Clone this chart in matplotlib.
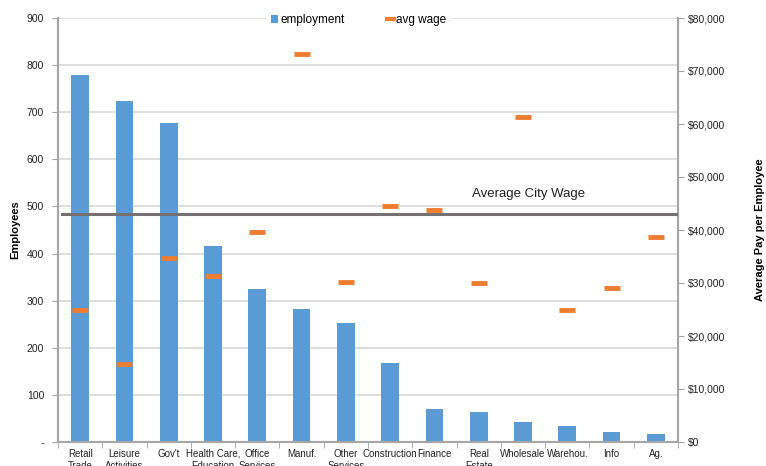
import numpy as np
import matplotlib
matplotlib.use("Agg")
import matplotlib.pyplot as plt
from matplotlib.patches import Patch
from matplotlib.lines import Line2D
from matplotlib.ticker import FuncFormatter

plt.rcParams['font.family'] = ['Liberation Sans', 'DejaVu Sans']

# data
sectors = ["Retail\nTrade", "Leisure\nActivities", "Gov't", "Health Care,\nEducation",
           "Office\nServices", "Manuf.", "Other\nServices", "Construction", "Finance",
           "Real\nEstate", "Wholesale", "Warehou.", "Info", "Ag."]
employment = [780, 724, 678, 417, 325, 283, 252, 168, 70, 64, 42, 35, 22, 17]
avg_wage = [24900, 14700, 34800, 31400, 39600, 73300, 30200, 44600, 43700,
            29950, 61400, 24900, 29100, 38700]
city_avg_wage = 42950

blue = '#5B9BD5'
orange = '#ED7D31'
axis_gray = '#A6A6A6'
txt = '#222222'

fig = plt.figure(figsize=(7.66, 4.66), dpi=100)
ax = fig.add_axes([58/766, 24/466, 620/766, 424/466])
ax2 = ax.twinx()

xs = np.arange(len(sectors))

# bars for employment
ax.bar(xs, employment, width=0.4, color=blue, zorder=2)
ax.set_xlim(-0.5, len(sectors) - 0.5)
ax.set_ylim(0, 900)
ax.set_yticks(np.arange(0, 901, 100))
ax.yaxis.set_major_formatter(FuncFormatter(lambda v, p: '-' if v == 0 else '%d' % v))
ax.grid(axis='y', color='#D9D9D9', lw=1.2, zorder=0)
ax.set_axisbelow(True)

# category labels centred, tick marks between categories
ax.set_xticks(xs)
ax.set_xticklabels(sectors, fontsize=7, color=txt, linespacing=1.3)
ax.set_xticks(np.arange(-0.5, len(sectors), 1), minor=True)
ax.tick_params(axis='x', which='major', length=0, pad=5)
ax.tick_params(axis='x', which='minor', length=4, color=axis_gray, direction='out')
ax.tick_params(axis='y', length=4, color=axis_gray, labelsize=7.5, labelcolor=txt, pad=6)

# wage markers on the secondary axis
ax2.plot(xs, avg_wage, linestyle='none', marker='_', ms=12, mew=3.5, color=orange, zorder=4)
ax2.axhline(city_avg_wage, xmin=0.006, xmax=1, color='#767171', lw=2.2, zorder=3)
ax2.set_ylim(0, 80000)
ax2.set_yticks(np.arange(0, 80001, 10000))
ax2.yaxis.set_major_formatter(FuncFormatter(lambda v, p: '${:,.0f}'.format(v)))
ax2.tick_params(axis='y', length=4, color=axis_gray, labelsize=7.5, labelcolor=txt, pad=3)

for a in (ax, ax2):
    a.spines['top'].set_visible(False)
    for s in ('left', 'right', 'bottom'):
        a.spines[s].set_color(axis_gray)
        a.spines[s].set_linewidth(1.5)

ax.text(10.12, 526, 'Average City Wage', ha='center', va='center', fontsize=9.5,
        color=txt, bbox=dict(facecolor='white', edgecolor='none', pad=2.5), zorder=5)

ax.set_ylabel('Employees', fontsize=8, fontweight='bold')
ax.yaxis.set_label_coords(-38/620, 0.5)
ax2.set_ylabel('Average Pay per Employee', fontsize=8, fontweight='bold')
ax2.yaxis.set_label_coords(697/620, 0.5)

handles = [Patch(facecolor=blue, edgecolor='none'),
           Line2D([0], [0], color=orange, lw=3)]
leg = ax2.legend(handles, ['employment', 'avg wage'], loc='center', ncol=2,
                 bbox_to_anchor=(0.485, 0.995), frameon=True, fontsize=8.5,
                 handlelength=0.6, handleheight=0.6, handletextpad=0.2, columnspacing=3.6,
                 borderpad=0.4, borderaxespad=0)
leg.get_frame().set_facecolor('white')
leg.get_frame().set_edgecolor('white')
leg.get_frame().set_alpha(1)
leg.set_zorder(10)

fig.savefig('out.png', dpi=100)
